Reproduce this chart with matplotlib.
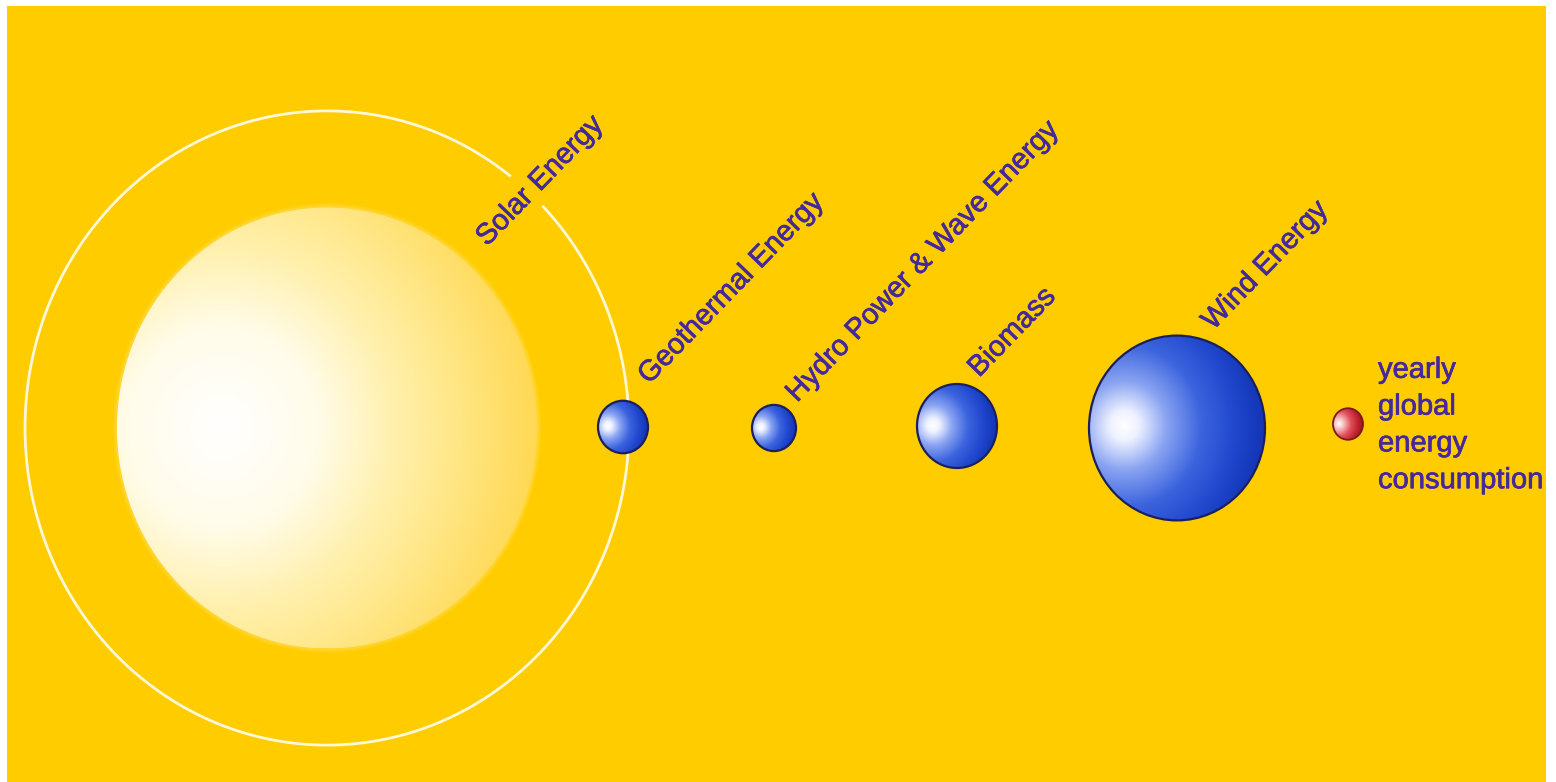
import numpy as np
import matplotlib
matplotlib.use("Agg")
import matplotlib.pyplot as plt
import matplotlib.patheffects as pe
from matplotlib.patches import Ellipse, Rectangle
from matplotlib.colors import LinearSegmentedColormap

# ========================
# Data: relative size of each energy resource (sphere radius, px)
# ========================
labels = ["Solar Energy", "Geothermal Energy", "Hydro Power & Wave Energy",
          "Biomass", "Wind Energy", "yearly\nglobal\nenergy\nconsumption"]
radii = [210, 25, 22, 40, 88, 15]
ring_radius = 302  # solar orbit ring

# layout (screen pixels, y down)
W, H = 1556, 782
centers_x = [327, 623, 774, 957, 1177, 1348]
center_y = [428, 427, 428, 426, 428, 424]
stretch = 1.05  # picture is slightly stretched vertically
label_xy = [(487, 247), (649, 385), (797, 403), (979, 378), (1213, 331), (1378, 425)]

BG = "#ffcc00"
TXT = "#45299a"

fig = plt.figure(figsize=(W / 100, H / 100), dpi=100)
fig.patch.set_facecolor("white")
ax = fig.add_axes([0, 0, 1, 1])
ax.set_xlim(0, W)
ax.set_ylim(H, 0)
ax.axis("off")

ax.add_patch(Rectangle((7, 6), 1539, 776, facecolor=BG, edgecolor="none", zorder=0))


def shaded_ball(cx, cy, r, cmap, hx=-0.6, hy=-0.02, dmax=1.6, edge=None, lw=1.3, z=2):
    rx, ry = r, r * stretch
    n = 300
    u, v = np.meshgrid(np.linspace(-1, 1, n), np.linspace(-1, 1, n))
    d = np.sqrt((u - hx) ** 2 + (v - hy) ** 2) / dmax
    im = ax.imshow(np.clip(d, 0, 1), cmap=cmap, vmin=0, vmax=1,
                   extent=(cx - rx, cx + rx, cy + ry, cy - ry),
                   origin="upper", interpolation="bilinear", zorder=z)
    clip = Ellipse((cx, cy), 2 * rx, 2 * ry, transform=ax.transData)
    im.set_clip_path(clip)
    if edge is not None:
        ax.add_patch(Ellipse((cx, cy), 2 * rx, 2 * ry, facecolor="none",
                             edgecolor=edge, lw=lw, zorder=z + 1))


sun_cmap = LinearSegmentedColormap.from_list(
    "sun", [(0, "#ffffff"), (0.3, "#fffcea"), (0.55, "#fff0ac"), (0.8, "#ffe47c"), (1, "#ffd955")])
blue_cmap = LinearSegmentedColormap.from_list(
    "blue", [(0, "#ffffff"), (0.1, "#eef2ff"), (0.3, "#8aa4f2"), (0.55, "#3c64de"),
             (0.8, "#1f46cc"), (1, "#1334b4")])
red_cmap = LinearSegmentedColormap.from_list(
    "red", [(0, "#ffffff"), (0.2, "#f6c0c0"), (0.5, "#e0505a"), (0.8, "#c0202c"), (1, "#a01420")])

# sun with soft edge
for grow, a in [(8, 0.25), (4, 0.45)]:
    ax.add_patch(Ellipse((centers_x[0], center_y[0]), 2 * radii[0] + grow,
                         (2 * radii[0] + grow) * stretch,
                         facecolor="#ffdc50", edgecolor="none", alpha=a, zorder=1))
shaded_ball(centers_x[0], center_y[0], radii[0], sun_cmap, hx=-0.5, hy=0.0, dmax=1.5)

# orbit ring with a gap for the label
gap = (44.5, 52.5)
t = np.radians(np.linspace(gap[1], 360 + gap[0], 600))
ax.plot(centers_x[0] + ring_radius * np.cos(t),
        center_y[0] - ring_radius * stretch * np.sin(t),
        color="#fff8d8", lw=2.0, zorder=2, solid_capstyle="butt")

for i in range(1, 5):
    shaded_ball(centers_x[i], center_y[i], radii[i], blue_cmap, edge="#1b1f5e", lw=1.6, z=4)
shaded_ball(centers_x[5], center_y[5], radii[5], red_cmap, edge="#7a1a20", lw=1.3, z=4)

heavy = [pe.withStroke(linewidth=0.5, foreground=TXT)]
font = dict(family=["Liberation Sans", "DejaVu Sans"], fontsize=21, color=TXT,
            path_effects=heavy)
for lab, (x, y) in zip(labels[:5], label_xy[:5]):
    ax.text(x, y, lab, rotation=46, rotation_mode="anchor", ha="left", va="baseline",
            zorder=6, **font)
ax.text(label_xy[5][0], label_xy[5][1], labels[5], ha="left", va="center",
        linespacing=1.4, zorder=6, **font)

fig.savefig("out.png", dpi=100, facecolor=fig.get_facecolor())
